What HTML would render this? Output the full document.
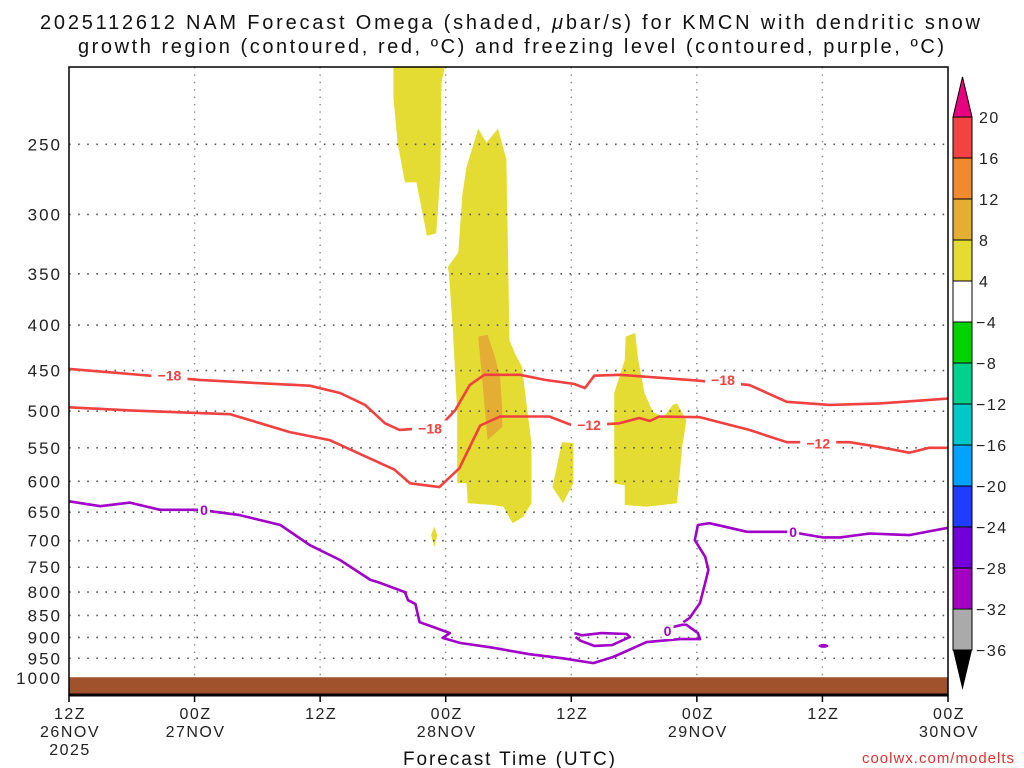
<!DOCTYPE html>
<html><head><meta charset="utf-8"><style>
html,body{margin:0;padding:0;background:#fff;}
svg{display:block;font-family:"Liberation Sans",sans-serif;}
</style></head><body>
<svg id="chart" width="1024" height="768" viewBox="0 0 1024 768" xmlns="http://www.w3.org/2000/svg">
<text x="40" y="29" font-size="20" fill="#111" textLength="940" lengthAdjust="spacing">2025112612 NAM Forecast Omega (shaded, <tspan font-style="italic">μ</tspan>bar/s) for KMCN with dendritic snow</text>
<text x="78" y="53" font-size="20" fill="#111" textLength="866" lengthAdjust="spacing">growth region (contoured, red, ºC) and freezing level (contoured, purple, ºC)</text>
<g id="plot"></g>
<text x="403" y="765" font-size="19" fill="#111" textLength="212" lengthAdjust="spacing">Forecast Time (UTC)</text>
<text x="1015" y="763" font-size="15" text-anchor="end" fill="#e03030" letter-spacing="1">coolwx.com/modelts</text>
</svg>
<script>
const xTickHours=[0,12,24,36,48,60,72,84];
const xTickLabels=[["12Z","26NOV","2025"],["00Z","27NOV"],["12Z"],["00Z","28NOV"],["12Z"],["00Z","29NOV"],["12Z"],["00Z","30NOV"]];
const pLevels=[250,300,350,400,450,500,550,600,650,700,750,800,850,900,950,1000];
const line18=[[0,448],[5.8,454],[12.5,461],[18.2,465],[23,468],[25.9,477],[28.3,492],[30.2,516],[31.6,525],[35.4,521],[36.9,499],[38.3,467],[39.7,455],[43.1,455],[45.5,461],[48.3,466],[49.3,471],[50.2,456],[52.6,455],[59.3,461],[65,467],[68.6,488],[72.7,492],[77.5,490],[84,484]];
const line12=[[0,495],[5.8,499],[15.4,504],[21.1,528],[24.9,539],[28.7,565],[31.1,582],[32.6,603],[35.4,609],[37.3,580],[39.3,519],[41.2,507],[45.9,507],[48.3,520],[52.6,516],[54.5,509],[55.5,513],[56.4,507],[60.3,508],[65,525],[68.6,542],[74.6,542],[77.5,549],[80.3,557],[82.2,550],[84,550]];
const line0=[[0,632],[3,640],[5.8,634],[8.7,646],[12.5,646],[16.3,655],[20.2,672],[23,708],[25.9,736],[28.8,775],[29.7,781],[32.1,800],[32.4,817],[33.1,825],[33.5,865],[34.8,876],[36.4,890],[35.7,901],[37.4,913],[40.2,923],[44.0,940],[47.2,950],[50.1,962],[52.0,947],[55.2,911],[58.4,904],[60.3,904],[60.1,890],[59.0,871],[58.6,871],[57.7,876]];
const line0b=[[58.7,865],[59.3,856],[60.3,823],[60.8,781],[61.1,755],[60.8,730],[59.8,699],[60.1,672],[61.2,669],[64.8,684],[68.9,684],[72.0,694],[73.7,694],[76.5,687],[80.3,690],[84,677]];
const loop0=[[48.3,890],[49,895],[50.9,890],[53.3,892],[53.6,899],[51.9,918],[50.2,920],[48.9,908],[48.4,899]];
const polyA=[[31.0,200],[36.1,200],[35.6,213],[35.5,269],[35.1,315],[34.2,317],[33.2,276],[32.1,276],[31.4,249],[31.0,221]];
const polyB=[[39.1,240],[39.9,249],[41.0,240],[41.8,260],[42.1,416],[42.6,430],[43.3,446],[43.8,499],[44.2,543],[44.2,635],[43.4,658],[42.4,669],[41.5,641],[40.5,638],[38.1,635],[38.0,603],[37.1,603],[37.1,502],[36.7,408],[36.3,349],[36.2,344],[37.2,331],[37.6,284],[38.0,265]];
const polyOrange=[[39.1,412],[40.0,410],[40.7,434],[41.2,458],[41.4,495],[41.4,521],[40.0,539],[39.6,477]];
const polyC=[[47.1,542],[48.2,543],[48.2,603],[47.2,635],[46.2,609]];
const polyD=[[53.2,412],[54.1,408],[54.4,438],[55.0,477],[55.8,501],[56.8,508],[57.7,492],[58.1,490],[59.0,512],[58.6,549],[58.1,635],[55.2,641],[53.1,638],[53.1,606],[52.1,603],[52.1,477],[53.1,438]];
const polyE=[[34.9,675],[35.2,690],[34.9,712],[34.6,690]];
const cbValues=[20,16,12,8,4,-4,-8,-12,-16,-20,-24,-28,-32,-36];
const cbColors=["#f34242","#f08a2e","#e4ae34","#e5dc33","#ffffff","#00d200","#00d18c","#00c8c8","#00a2ff","#1f3cff","#7200d8","#a300c2","#aaaaaa"];

const X0=69,X1=948,Y0=67,YB=695;
function xs(h){return X0+(X1-X0)*h/84;}
function ys(p){return 678-385*Math.log(1000/p);}
const NS="http://www.w3.org/2000/svg";
const g=document.getElementById('plot');
function mk(tag,attrs,parent){const e=document.createElementNS(NS,tag);for(const k in attrs)e.setAttribute(k,attrs[k]);(parent||g).appendChild(e);return e;}
const defs=mk('defs',{});
const cp=mk('clipPath',{id:'clip'},defs);mk('rect',{x:X0,y:Y0,width:X1-X0,height:YB-Y0},cp);
const inner=mk('g',{'clip-path':'url(#clip)'});
function pts(arr){return arr.map(d=>xs(d[0]).toFixed(1)+','+ys(d[1]).toFixed(1)).join(' ');}
[[polyA,'#e5dc33','shade-region-upper'],[polyB,'#e5dc33','shade-region-main'],[polyOrange,'#e4ae34','shade-region-orange'],[polyC,'#e5dc33','shade-region-small'],[polyD,'#e5dc33','shade-region-right'],[polyE,'#e5dc33','shade-region-blob']].forEach(a=>{
 const e=mk('polygon',{points:pts(a[0]),fill:a[1]},inner);
 
 
});
pLevels.forEach(p=>{if(p>=1000)return;
 const e=mk('line',{x1:X0,x2:X1,y1:ys(p),y2:ys(p),stroke:'#555','stroke-width':1.6,'stroke-dasharray':'1.6 7.5'},inner);
 
 
});
xTickHours.forEach(h=>{if(h===0||h===84)return;
 const e=mk('line',{x1:xs(h),x2:xs(h),y1:Y0,y2:YB,stroke:'#888','stroke-width':1.4,'stroke-dasharray':'1.4 6'},inner);
 
 
});
const gr=mk('rect',{x:X0,y:ys(998),width:X1-X0,height:YB-ys(998),fill:'#a0522d'},inner);


[[line18,'#f04040','contour-minus18'],[line12,'#f04040','contour-minus12'],[line0,'#a000c8','freezing-level'],[line0b,'#a000c8','freezing-level-right'],[loop0,'#a000c8','freezing-level-loop']].forEach(a=>{
 const e=mk('polyline',{points:pts(a[0]),fill:'none',stroke:a[1],'stroke-width':2.6,'stroke-linejoin':'round'},inner);
 
 
});
const blob=mk('ellipse',{cx:xs(72.1),cy:ys(920),rx:5,ry:2,fill:'#a000c8'},inner);


[[9.6,456,'-18','#f04040'],[34.5,523,'-18','#f04040'],[49.7,518,'-12','#f04040'],[62.5,461,'-18','#f04040'],[71.6,544,'-12','#f04040'],[12.9,646,'0','#a000c8'],[69.2,684,'0','#a000c8'],[57.2,885,'0','#a000c8']].forEach(l=>{
 const x=xs(l[0]),y=ys(l[1]);
 const bg=mk('rect',{x:x-(l[2].length*6),y:y-8,width:l[2].length*12,height:16,fill:'#fff'},inner);
 
 
 const t=mk('text',{x:x,y:y+5,'font-size':14,'font-weight':'bold','text-anchor':'middle',fill:l[3]},inner);
 t.textContent=l[2].replace('-','−');
 
 
});
const fr=mk('rect',{x:X0,y:Y0,width:X1-X0,height:YB-Y0,fill:'none',stroke:'#000','stroke-width':1.5});


mk('line',{x1:X0,x2:X1,y1:YB,y2:YB,stroke:'#000','stroke-width':3});
pLevels.forEach(p=>{
 const t=mk('text',{x:62,y:ys(p)+6,'font-size':17,'text-anchor':'end',fill:'#222','letter-spacing':2});
 t.textContent=p;
 
 
});
xTickHours.forEach((h,i)=>{
 const tk=mk('line',{x1:xs(h),x2:xs(h),y1:YB,y2:YB+7,stroke:'#000','stroke-width':1.5});
 
 
 xTickLabels[i].forEach((s,j)=>{
  const t=mk('text',{x:xs(h)+1,y:719+j*18,'font-size':16,'text-anchor':'middle',fill:'#222','letter-spacing':1.5});
  t.textContent=s;
  
  
 });
});
const CX=953,CW=19,CT=117,CB=650,seg=(CB-CT)/13;
cbColors.forEach((c,i)=>{
 const r=mk('rect',{x:CX,y:CT+i*seg,width:CW,height:seg,fill:c,stroke:'#000','stroke-width':1});
 
 
});
const tt=mk('polygon',{points:`${CX},${CT} ${CX+CW},${CT} ${CX+CW/2},${CT-40}`,fill:'#e8007f',stroke:'#000','stroke-width':1});


const tb=mk('polygon',{points:`${CX},${CB} ${CX+CW},${CB} ${CX+CW/2},${CB+40}`,fill:'#000'});


cbValues.forEach((v,i)=>{
 const t=mk('text',{x:v<0?976:979,y:CT+i*seg+6,'font-size':16,fill:'#222','letter-spacing':1.5});
 t.textContent=v<0?'−'+(-v):v;
 
 
});
</script>
</body></html>
